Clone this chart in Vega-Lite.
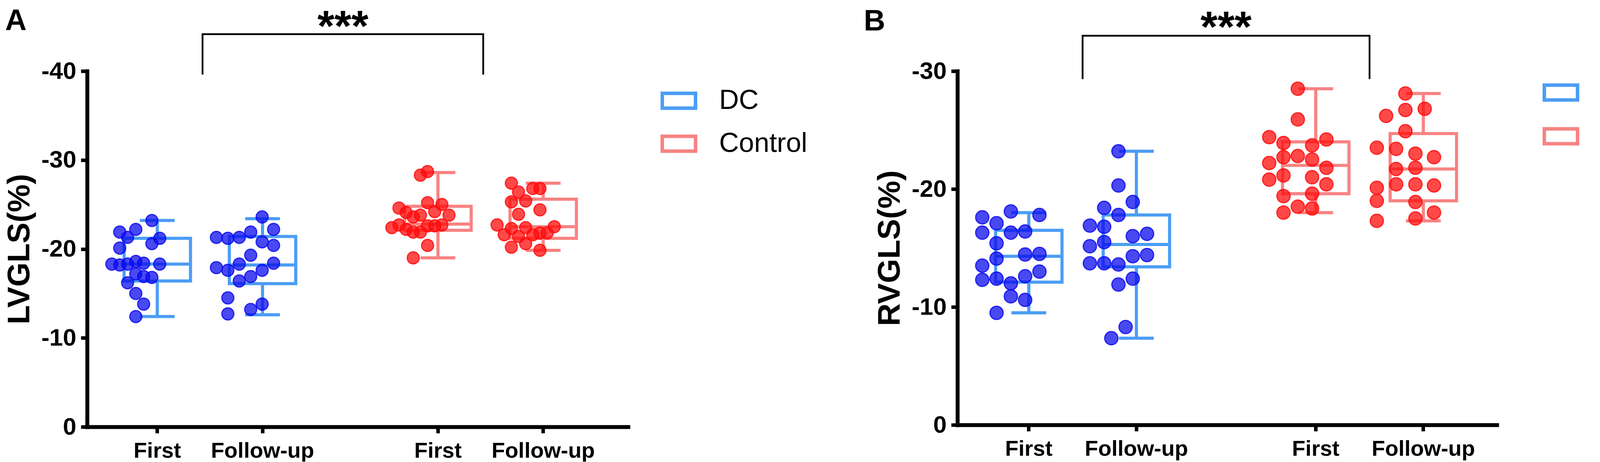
{
  "$schema": "https://vega.github.io/schema/vega-lite/v6.json",
  "background": "white",
  "padding": {"left": 10, "top": 14, "right": 0, "bottom": 0},
  "config": {
    "view": {"stroke": null},
    "font": "Liberation Sans",
    "axis": {"domainColor": "black", "tickColor": "black", "labelColor": "black", "titleColor": "black", "grid": false, "domainWidth": 10, "tickWidth": 9, "domainCap": "square", "labelFont": "Liberation Sans", "titleFont": "Liberation Sans", "labelFontWeight": "bold", "titleFontWeight": "bold", "labelLimit": 0},
    "legend": {"title": null, "orient": "right", "symbolType": "M-1,-0.5H1V0.5H-1Z M-0.81,-0.31V0.31H0.81V-0.31Z", "symbolSize": 8836, "symbolStrokeWidth": 0, "labelFontSize": 70, "labelFont": "Liberation Sans", "labelFontWeight": "normal", "labelColor": "black", "labelOffset": 56, "labelLimit": 0}
  },
  "datasets": {
    "ptsA": [
      {"group": "DC", "cond": "DC First", "lane": 1.7, "v": -23.2},
      {"group": "DC", "cond": "DC First", "lane": -2.8, "v": -21.9},
      {"group": "DC", "cond": "DC First", "lane": -0.55, "v": -22.2},
      {"group": "DC", "cond": "DC First", "lane": -1.7, "v": -21.3},
      {"group": "DC", "cond": "DC First", "lane": 2.8, "v": -21.2},
      {"group": "DC", "cond": "DC First", "lane": 1.7, "v": -20.6},
      {"group": "DC", "cond": "DC First", "lane": -2.8, "v": -20.1},
      {"group": "DC", "cond": "DC First", "lane": -3.9, "v": -18.3},
      {"group": "DC", "cond": "DC First", "lane": -2.8, "v": -18.2},
      {"group": "DC", "cond": "DC First", "lane": -1.7, "v": -18.3},
      {"group": "DC", "cond": "DC First", "lane": -0.55, "v": -18.6},
      {"group": "DC", "cond": "DC First", "lane": 0.55, "v": -18.4},
      {"group": "DC", "cond": "DC First", "lane": 2.8, "v": -18.3},
      {"group": "DC", "cond": "DC First", "lane": -0.55, "v": -17.2},
      {"group": "DC", "cond": "DC First", "lane": 0.55, "v": -16.9},
      {"group": "DC", "cond": "DC First", "lane": 1.7, "v": -16.8},
      {"group": "DC", "cond": "DC First", "lane": -1.7, "v": -16.2},
      {"group": "DC", "cond": "DC First", "lane": -0.55, "v": -15.0},
      {"group": "DC", "cond": "DC First", "lane": 0.55, "v": -13.8},
      {"group": "DC", "cond": "DC First", "lane": -0.55, "v": -12.4},
      {"group": "DC", "cond": "DC Follow-up", "lane": 2.4, "v": -23.6},
      {"group": "DC", "cond": "DC Follow-up", "lane": 4, "v": -22.2},
      {"group": "DC", "cond": "DC Follow-up", "lane": 0.8, "v": -21.9},
      {"group": "DC", "cond": "DC Follow-up", "lane": -4, "v": -21.3},
      {"group": "DC", "cond": "DC Follow-up", "lane": -2.4, "v": -21.2},
      {"group": "DC", "cond": "DC Follow-up", "lane": -0.8, "v": -21.3},
      {"group": "DC", "cond": "DC Follow-up", "lane": 2.4, "v": -20.8},
      {"group": "DC", "cond": "DC Follow-up", "lane": 4, "v": -20.4},
      {"group": "DC", "cond": "DC Follow-up", "lane": 0.8, "v": -19.3},
      {"group": "DC", "cond": "DC Follow-up", "lane": -4, "v": -17.9},
      {"group": "DC", "cond": "DC Follow-up", "lane": -2.4, "v": -17.6},
      {"group": "DC", "cond": "DC Follow-up", "lane": -0.8, "v": -18.3},
      {"group": "DC", "cond": "DC Follow-up", "lane": 4, "v": -18.4},
      {"group": "DC", "cond": "DC Follow-up", "lane": 2.4, "v": -17.6},
      {"group": "DC", "cond": "DC Follow-up", "lane": 0.8, "v": -16.9},
      {"group": "DC", "cond": "DC Follow-up", "lane": -0.8, "v": -16.4},
      {"group": "DC", "cond": "DC Follow-up", "lane": -2.4, "v": -14.5},
      {"group": "DC", "cond": "DC Follow-up", "lane": 2.4, "v": -13.8},
      {"group": "DC", "cond": "DC Follow-up", "lane": 0.8, "v": -13.2},
      {"group": "DC", "cond": "DC Follow-up", "lane": -2.4, "v": -12.7},
      {"group": "Control", "cond": "Control First", "lane": 1, "v": -28.7},
      {"group": "Control", "cond": "Control First", "lane": 0, "v": -28.3},
      {"group": "Control", "cond": "Control First", "lane": 1, "v": -25.2},
      {"group": "Control", "cond": "Control First", "lane": 3, "v": -25.0},
      {"group": "Control", "cond": "Control First", "lane": -3, "v": -24.6},
      {"group": "Control", "cond": "Control First", "lane": -2, "v": -24.1},
      {"group": "Control", "cond": "Control First", "lane": 2, "v": -24.2},
      {"group": "Control", "cond": "Control First", "lane": 4, "v": -23.8},
      {"group": "Control", "cond": "Control First", "lane": -1, "v": -23.6},
      {"group": "Control", "cond": "Control First", "lane": 0, "v": -23.8},
      {"group": "Control", "cond": "Control First", "lane": -4, "v": -22.4},
      {"group": "Control", "cond": "Control First", "lane": -3, "v": -22.7},
      {"group": "Control", "cond": "Control First", "lane": -2, "v": -22.2},
      {"group": "Control", "cond": "Control First", "lane": -1, "v": -21.9},
      {"group": "Control", "cond": "Control First", "lane": 0, "v": -21.9},
      {"group": "Control", "cond": "Control First", "lane": 1, "v": -22.6},
      {"group": "Control", "cond": "Control First", "lane": 2, "v": -22.6},
      {"group": "Control", "cond": "Control First", "lane": 3, "v": -22.7},
      {"group": "Control", "cond": "Control First", "lane": 1, "v": -20.4},
      {"group": "Control", "cond": "Control First", "lane": -1, "v": -19.0},
      {"group": "Control", "cond": "Control Follow-up", "lane": -2, "v": -27.4},
      {"group": "Control", "cond": "Control Follow-up", "lane": -1, "v": -26.4},
      {"group": "Control", "cond": "Control Follow-up", "lane": 1, "v": -26.8},
      {"group": "Control", "cond": "Control Follow-up", "lane": 2, "v": -26.8},
      {"group": "Control", "cond": "Control Follow-up", "lane": -2, "v": -25.3},
      {"group": "Control", "cond": "Control Follow-up", "lane": 0, "v": -25.4},
      {"group": "Control", "cond": "Control Follow-up", "lane": -1, "v": -23.9},
      {"group": "Control", "cond": "Control Follow-up", "lane": 2, "v": -24.4},
      {"group": "Control", "cond": "Control Follow-up", "lane": -4, "v": -22.7},
      {"group": "Control", "cond": "Control Follow-up", "lane": -3, "v": -21.6},
      {"group": "Control", "cond": "Control Follow-up", "lane": -2, "v": -22.3},
      {"group": "Control", "cond": "Control Follow-up", "lane": -1, "v": -21.4},
      {"group": "Control", "cond": "Control Follow-up", "lane": 0, "v": -22.4},
      {"group": "Control", "cond": "Control Follow-up", "lane": 1, "v": -21.6},
      {"group": "Control", "cond": "Control Follow-up", "lane": 2, "v": -21.8},
      {"group": "Control", "cond": "Control Follow-up", "lane": 3, "v": -21.8},
      {"group": "Control", "cond": "Control Follow-up", "lane": 4, "v": -22.5},
      {"group": "Control", "cond": "Control Follow-up", "lane": -2, "v": -20.2},
      {"group": "Control", "cond": "Control Follow-up", "lane": 0, "v": -20.6},
      {"group": "Control", "cond": "Control Follow-up", "lane": 2, "v": -19.85}
    ],
    "ptsB": [
      {"group": "DC", "cond": "DC First", "lane": 0, "v": -18.1},
      {"group": "DC", "cond": "DC First", "lane": 4, "v": -17.8},
      {"group": "DC", "cond": "DC First", "lane": -4, "v": -17.6},
      {"group": "DC", "cond": "DC First", "lane": -2, "v": -17.1},
      {"group": "DC", "cond": "DC First", "lane": -4, "v": -16.3},
      {"group": "DC", "cond": "DC First", "lane": 0, "v": -16.3},
      {"group": "DC", "cond": "DC First", "lane": 2, "v": -16.4},
      {"group": "DC", "cond": "DC First", "lane": -2, "v": -15.4},
      {"group": "DC", "cond": "DC First", "lane": 2, "v": -14.45},
      {"group": "DC", "cond": "DC First", "lane": 4, "v": -14.5},
      {"group": "DC", "cond": "DC First", "lane": -2, "v": -14.1},
      {"group": "DC", "cond": "DC First", "lane": -4, "v": -13.5},
      {"group": "DC", "cond": "DC First", "lane": 4, "v": -13.0},
      {"group": "DC", "cond": "DC First", "lane": -4, "v": -12.3},
      {"group": "DC", "cond": "DC First", "lane": -2, "v": -12.4},
      {"group": "DC", "cond": "DC First", "lane": 2, "v": -12.6},
      {"group": "DC", "cond": "DC First", "lane": 0, "v": -12.0},
      {"group": "DC", "cond": "DC First", "lane": 0, "v": -10.9},
      {"group": "DC", "cond": "DC First", "lane": 2, "v": -10.6},
      {"group": "DC", "cond": "DC First", "lane": -2, "v": -9.5},
      {"group": "DC", "cond": "DC Follow-up", "lane": 0, "v": -23.2},
      {"group": "DC", "cond": "DC Follow-up", "lane": 0, "v": -20.3},
      {"group": "DC", "cond": "DC Follow-up", "lane": 2, "v": -18.9},
      {"group": "DC", "cond": "DC Follow-up", "lane": -2, "v": -18.4},
      {"group": "DC", "cond": "DC Follow-up", "lane": 0, "v": -17.8},
      {"group": "DC", "cond": "DC Follow-up", "lane": -4, "v": -16.9},
      {"group": "DC", "cond": "DC Follow-up", "lane": -2, "v": -16.8},
      {"group": "DC", "cond": "DC Follow-up", "lane": 2, "v": -16.0},
      {"group": "DC", "cond": "DC Follow-up", "lane": 4, "v": -16.2},
      {"group": "DC", "cond": "DC Follow-up", "lane": -4, "v": -15.15},
      {"group": "DC", "cond": "DC Follow-up", "lane": -2, "v": -15.5},
      {"group": "DC", "cond": "DC Follow-up", "lane": 2, "v": -14.3},
      {"group": "DC", "cond": "DC Follow-up", "lane": 4, "v": -14.4},
      {"group": "DC", "cond": "DC Follow-up", "lane": -4, "v": -13.7},
      {"group": "DC", "cond": "DC Follow-up", "lane": -2, "v": -13.7},
      {"group": "DC", "cond": "DC Follow-up", "lane": 0, "v": -13.6},
      {"group": "DC", "cond": "DC Follow-up", "lane": 2, "v": -12.4},
      {"group": "DC", "cond": "DC Follow-up", "lane": 0, "v": -11.9},
      {"group": "DC", "cond": "DC Follow-up", "lane": 1, "v": -8.3},
      {"group": "DC", "cond": "DC Follow-up", "lane": -1, "v": -7.35},
      {"group": "Control", "cond": "Control First", "lane": 0, "v": -28.5},
      {"group": "Control", "cond": "Control First", "lane": 0, "v": -25.9},
      {"group": "Control", "cond": "Control First", "lane": -4, "v": -24.4},
      {"group": "Control", "cond": "Control First", "lane": 4, "v": -24.2},
      {"group": "Control", "cond": "Control First", "lane": -2, "v": -23.9},
      {"group": "Control", "cond": "Control First", "lane": 2, "v": -23.7},
      {"group": "Control", "cond": "Control First", "lane": -2, "v": -22.7},
      {"group": "Control", "cond": "Control First", "lane": 0, "v": -22.8},
      {"group": "Control", "cond": "Control First", "lane": 2, "v": -22.5},
      {"group": "Control", "cond": "Control First", "lane": -4, "v": -22.2},
      {"group": "Control", "cond": "Control First", "lane": 4, "v": -21.8},
      {"group": "Control", "cond": "Control First", "lane": -4, "v": -20.8},
      {"group": "Control", "cond": "Control First", "lane": -2, "v": -21.15},
      {"group": "Control", "cond": "Control First", "lane": 2, "v": -21.0},
      {"group": "Control", "cond": "Control First", "lane": 4, "v": -20.4},
      {"group": "Control", "cond": "Control First", "lane": -2, "v": -19.4},
      {"group": "Control", "cond": "Control First", "lane": 2, "v": -19.6},
      {"group": "Control", "cond": "Control First", "lane": 0, "v": -18.5},
      {"group": "Control", "cond": "Control First", "lane": -2, "v": -18.0},
      {"group": "Control", "cond": "Control First", "lane": 2, "v": -18.35},
      {"group": "Control", "cond": "Control Follow-up", "lane": 0, "v": -28.1},
      {"group": "Control", "cond": "Control Follow-up", "lane": 2.7, "v": -26.8},
      {"group": "Control", "cond": "Control Follow-up", "lane": 0, "v": -26.7},
      {"group": "Control", "cond": "Control Follow-up", "lane": -2.7, "v": -26.2},
      {"group": "Control", "cond": "Control Follow-up", "lane": 0, "v": -24.9},
      {"group": "Control", "cond": "Control Follow-up", "lane": -4, "v": -23.5},
      {"group": "Control", "cond": "Control Follow-up", "lane": -1.3, "v": -23.4},
      {"group": "Control", "cond": "Control Follow-up", "lane": 1.4, "v": -23.0},
      {"group": "Control", "cond": "Control Follow-up", "lane": 4, "v": -22.7},
      {"group": "Control", "cond": "Control Follow-up", "lane": -1.3, "v": -21.7},
      {"group": "Control", "cond": "Control Follow-up", "lane": 1.4, "v": -21.8},
      {"group": "Control", "cond": "Control Follow-up", "lane": -4, "v": -20.1},
      {"group": "Control", "cond": "Control Follow-up", "lane": -1.3, "v": -20.4},
      {"group": "Control", "cond": "Control Follow-up", "lane": 1.4, "v": -20.4},
      {"group": "Control", "cond": "Control Follow-up", "lane": 4, "v": -20.3},
      {"group": "Control", "cond": "Control Follow-up", "lane": -4, "v": -19.0},
      {"group": "Control", "cond": "Control Follow-up", "lane": 1.4, "v": -18.9},
      {"group": "Control", "cond": "Control Follow-up", "lane": 4, "v": -18.0},
      {"group": "Control", "cond": "Control Follow-up", "lane": 1.4, "v": -17.5},
      {"group": "Control", "cond": "Control Follow-up", "lane": -4, "v": -17.3}
    ],
    "boxA": [
      {"group": "DC", "cond": "DC First", "lo": -12.4, "q1": -16.4, "med": -18.3, "q3": -21.2, "hi": -23.2},
      {"group": "DC", "cond": "DC Follow-up", "lo": -12.6, "q1": -16.1, "med": -18.2, "q3": -21.4, "hi": -23.4},
      {"group": "Control", "cond": "Control First", "lo": -19.0, "q1": -22.1, "med": -22.8, "q3": -24.8, "hi": -28.6},
      {"group": "Control", "cond": "Control Follow-up", "lo": -19.85, "q1": -21.2, "med": -22.5, "q3": -25.6, "hi": -27.4}
    ],
    "boxB": [
      {"group": "DC", "cond": "DC First", "lo": -9.5, "q1": -12.1, "med": -14.3, "q3": -16.5, "hi": -18.0},
      {"group": "DC", "cond": "DC Follow-up", "lo": -7.35, "q1": -13.4, "med": -15.3, "q3": -17.8, "hi": -23.2},
      {"group": "Control", "cond": "Control First", "lo": -18.0, "q1": -19.6, "med": -22.0, "q3": -24.0, "hi": -28.5},
      {"group": "Control", "cond": "Control Follow-up", "lo": -17.3, "q1": -19.0, "med": -21.7, "q3": -24.7, "hi": -28.1}
    ],
    "brA": [
      {"cond": "g1", "v": -39.6, "ord": 1},
      {"cond": "g1", "v": -44.15, "ord": 2},
      {"cond": "g7", "v": -44.15, "ord": 3},
      {"cond": "g7", "v": -39.6, "ord": 4}
    ],
    "brB": [
      {"cond": "g2", "v": -29.32, "ord": 1},
      {"cond": "g2", "v": -33.0, "ord": 2},
      {"cond": "g8", "v": -33.0, "ord": 3},
      {"cond": "g8", "v": -29.32, "ord": 4}
    ],
    "starA": [{"cond": "g4", "v": -43.40, "label": "***"}],
    "starB": [{"cond": "g5", "v": -32.50, "label": "***"}],
    "labA": [{"cond": "DC First", "v": -44.63, "label": "A"}],
    "labB": [{"cond": "DC First", "v": -33.43, "label": "B"}]
  },
  "hconcat": [
    {
      "width": 1385,
      "height": 911,
      "encoding": {
        "x": {"field": "cond", "type": "nominal", "title": null,
          "scale": {"type": "band", "domain": ["s0", "DC First", "g1", "g2", "DC Follow-up", "g3", "g4", "g5", "g6", "Control First", "g7", "g8", "Control Follow-up", "s9"], "paddingInner": 0, "paddingOuter": 0.71, "align": 0.352},
          "axis": {"values": ["DC First", "DC Follow-up", "Control First", "Control Follow-up"], "labelExpr": "indexof(datum.value, 'First') >= 0 ? 'First' : 'Follow-up'", "labelAngle": 0, "labelFontSize": 56, "tickSize": 16, "labelPadding": 18, "bandPosition": 0.5}}
      },
      "layer": [
        {"data": {"name": "boxA"}, "mark": {"type": "bar", "width": 170, "filled": false, "strokeWidth": 8},
          "encoding": {
            "y": {"field": "q3", "type": "quantitative", "title": "LVGLS(%)", "scale": {"domain": [-40, 0], "reverse": true, "nice": false, "zero": false},
              "axis": {"values": [-40, -30, -20, -10, 0], "labelExpr": "'' + datum.value", "labelFontSize": 62, "tickSize": 16, "labelPadding": 12, "labelFlush": false, "labelOverlap": false, "titleFontSize": 80, "titlePadding": 14}},
            "y2": {"field": "q1"},
            "stroke": {"field": "group", "type": "nominal", "scale": {"domain": ["DC", "Control"], "range": ["#4B9DF5", "#F88383"]}, "legend": {"offset": 54, "padding": 29, "rowPadding": 28}}}},
        {"data": {"name": "boxA"}, "mark": {"type": "rule", "strokeWidth": 8},
          "encoding": {
            "y": {"field": "hi", "type": "quantitative", "title": "LVGLS(%)"},
            "y2": {"field": "q3"},
            "stroke": {"field": "group", "type": "nominal", "legend": {"offset": 54, "padding": 29, "rowPadding": 28}}}},
        {"data": {"name": "boxA"}, "mark": {"type": "rule", "strokeWidth": 8},
          "encoding": {
            "y": {"field": "q1", "type": "quantitative", "title": "LVGLS(%)"},
            "y2": {"field": "lo"},
            "stroke": {"field": "group", "type": "nominal", "legend": {"offset": 54, "padding": 29, "rowPadding": 28}}}},
        {"data": {"name": "boxA"}, "mark": {"type": "tick", "size": 170, "thickness": 8, "opacity": 1},
          "encoding": {
            "y": {"field": "med", "type": "quantitative", "title": "LVGLS(%)"},
            "fill": {"field": "group", "type": "nominal", "scale": {"domain": ["DC", "Control"], "range": ["#4B9DF5", "#F88383"]}, "legend": null}}},
        {"data": {"name": "boxA"}, "mark": {"type": "tick", "size": 89, "thickness": 8, "opacity": 1},
          "encoding": {
            "y": {"field": "hi", "type": "quantitative", "title": "LVGLS(%)"},
            "fill": {"field": "group", "type": "nominal", "legend": null}}},
        {"data": {"name": "boxA"}, "mark": {"type": "tick", "size": 89, "thickness": 8, "opacity": 1},
          "encoding": {
            "y": {"field": "lo", "type": "quantitative", "title": "LVGLS(%)"},
            "fill": {"field": "group", "type": "nominal", "legend": null}}},
        {"data": {"name": "ptsA"}, "mark": {"type": "point", "shape": "circle", "filled": true, "size": 950, "opacity": 1, "fillOpacity": 0.74},
          "encoding": {
            "y": {"field": "v", "type": "quantitative", "title": "LVGLS(%)"},
            "xOffset": {"field": "lane", "type": "quantitative", "scale": {"domain": [-4, 4], "range": [-73.2, 73.2]}},
            "color": {"field": "group", "type": "nominal", "scale": {"domain": ["DC", "Control"], "range": ["#0A0AEE", "#FF0A0A"]}, "legend": null}}},
        {"data": {"name": "ptsA"}, "mark": {"type": "point", "shape": "circle", "filled": false, "size": 950, "opacity": 1, "strokeWidth": 3, "strokeOpacity": 0.85},
          "encoding": {
            "y": {"field": "v", "type": "quantitative", "title": "LVGLS(%)"},
            "xOffset": {"field": "lane", "type": "quantitative"},
            "color": {"field": "group", "type": "nominal", "legend": null}}},
        {"data": {"name": "brA"}, "mark": {"type": "line", "stroke": "black", "strokeWidth": 4.5, "clip": false},
          "encoding": {
            "x": {"field": "cond", "type": "nominal", "bandPosition": 0.79, "title": null},
            "y": {"field": "v", "type": "quantitative", "title": "LVGLS(%)"},
            "order": {"field": "ord", "type": "quantitative"}}},
        {"data": {"name": "starA"}, "mark": {"type": "text", "fontSize": 112, "fontWeight": "bold", "font": "Liberation Sans", "baseline": "alphabetic", "align": "center", "color": "black", "clip": false},
          "encoding": {
            "x": {"field": "cond", "type": "nominal", "bandPosition": 0.79, "title": null},
            "y": {"field": "v", "type": "quantitative", "title": "LVGLS(%)"},
            "text": {"field": "label"}}},
        {"data": {"name": "labA"}, "mark": {"type": "text", "fontSize": 76, "fontWeight": "bold", "font": "Liberation Sans", "baseline": "alphabetic", "align": "center", "color": "black", "clip": false, "dx": -362},
          "encoding": {
            "y": {"field": "v", "type": "quantitative", "title": "LVGLS(%)"},
            "text": {"field": "label"}}}
      ]
    },
    {
      "width": 1381,
      "height": 906,
      "encoding": {
        "x": {"field": "cond", "type": "nominal", "title": null,
          "scale": {"type": "band", "domain": ["s0", "DC First", "g1", "g2", "DC Follow-up", "g3", "g4", "g5", "g6", "Control First", "g7", "g8", "Control Follow-up", "s9"], "paddingInner": 0, "paddingOuter": 0.52, "align": 0.471},
          "axis": {"values": ["DC First", "DC Follow-up", "Control First", "Control Follow-up"], "labelExpr": "indexof(datum.value, 'First') >= 0 ? 'First' : 'Follow-up'", "labelAngle": 0, "labelFontSize": 56, "tickSize": 16, "labelPadding": 18, "bandPosition": 0.5}}
      },
      "layer": [
        {"data": {"name": "boxB"}, "mark": {"type": "bar", "width": 170, "filled": false, "strokeWidth": 8},
          "encoding": {
            "y": {"field": "q3", "type": "quantitative", "title": "RVGLS(%)", "scale": {"domain": [-30, 0], "reverse": true, "nice": false, "zero": false},
              "axis": {"values": [-30, -20, -10, 0], "labelExpr": "'' + datum.value", "labelFontSize": 62, "tickSize": 16, "labelPadding": 12, "labelFlush": false, "labelOverlap": false, "titleFontSize": 80, "titlePadding": 14}},
            "y2": {"field": "q1"},
            "stroke": {"field": "group", "type": "nominal", "scale": {"domain": ["DC", "Control"], "range": ["#4B9DF5", "#F88383"]}, "legend": {"offset": 109, "padding": 8, "rowPadding": 30}}}},
        {"data": {"name": "boxB"}, "mark": {"type": "rule", "strokeWidth": 8},
          "encoding": {
            "y": {"field": "hi", "type": "quantitative", "title": "RVGLS(%)"},
            "y2": {"field": "q3"},
            "stroke": {"field": "group", "type": "nominal", "legend": {"offset": 109, "padding": 8, "rowPadding": 30}}}},
        {"data": {"name": "boxB"}, "mark": {"type": "rule", "strokeWidth": 8},
          "encoding": {
            "y": {"field": "q1", "type": "quantitative", "title": "RVGLS(%)"},
            "y2": {"field": "lo"},
            "stroke": {"field": "group", "type": "nominal", "legend": {"offset": 109, "padding": 8, "rowPadding": 30}}}},
        {"data": {"name": "boxB"}, "mark": {"type": "tick", "size": 170, "thickness": 8, "opacity": 1},
          "encoding": {
            "y": {"field": "med", "type": "quantitative", "title": "RVGLS(%)"},
            "fill": {"field": "group", "type": "nominal", "scale": {"domain": ["DC", "Control"], "range": ["#4B9DF5", "#F88383"]}, "legend": null}}},
        {"data": {"name": "boxB"}, "mark": {"type": "tick", "size": 89, "thickness": 8, "opacity": 1},
          "encoding": {
            "y": {"field": "hi", "type": "quantitative", "title": "RVGLS(%)"},
            "fill": {"field": "group", "type": "nominal", "legend": null}}},
        {"data": {"name": "boxB"}, "mark": {"type": "tick", "size": 89, "thickness": 8, "opacity": 1},
          "encoding": {
            "y": {"field": "lo", "type": "quantitative", "title": "RVGLS(%)"},
            "fill": {"field": "group", "type": "nominal", "legend": null}}},
        {"data": {"name": "ptsB"}, "mark": {"type": "point", "shape": "circle", "filled": true, "size": 1150, "opacity": 1, "fillOpacity": 0.74},
          "encoding": {
            "y": {"field": "v", "type": "quantitative", "title": "RVGLS(%)"},
            "xOffset": {"field": "lane", "type": "quantitative", "scale": {"domain": [-4, 4], "range": [-73.2, 73.2]}},
            "color": {"field": "group", "type": "nominal", "scale": {"domain": ["DC", "Control"], "range": ["#0A0AEE", "#FF0A0A"]}, "legend": null}}},
        {"data": {"name": "ptsB"}, "mark": {"type": "point", "shape": "circle", "filled": false, "size": 1150, "opacity": 1, "strokeWidth": 3, "strokeOpacity": 0.85},
          "encoding": {
            "y": {"field": "v", "type": "quantitative", "title": "RVGLS(%)"},
            "xOffset": {"field": "lane", "type": "quantitative"},
            "color": {"field": "group", "type": "nominal", "legend": null}}},
        {"data": {"name": "brB"}, "mark": {"type": "line", "stroke": "black", "strokeWidth": 4.5, "clip": false},
          "encoding": {
            "x": {"field": "cond", "type": "nominal", "bandPosition": 0, "title": null},
            "y": {"field": "v", "type": "quantitative", "title": "RVGLS(%)"},
            "order": {"field": "ord", "type": "quantitative"}}},
        {"data": {"name": "starB"}, "mark": {"type": "text", "fontSize": 112, "fontWeight": "bold", "font": "Liberation Sans", "baseline": "alphabetic", "align": "center", "color": "black", "clip": false},
          "encoding": {
            "x": {"field": "cond", "type": "nominal", "bandPosition": 0, "title": null},
            "y": {"field": "v", "type": "quantitative", "title": "RVGLS(%)"},
            "text": {"field": "label"}}},
        {"data": {"name": "labB"}, "mark": {"type": "text", "fontSize": 76, "fontWeight": "bold", "font": "Liberation Sans", "baseline": "alphabetic", "align": "center", "color": "black", "clip": false, "dx": -395},
          "encoding": {
            "y": {"field": "v", "type": "quantitative", "title": "RVGLS(%)"},
            "text": {"field": "label"}}}
      ]
    }
  ],
  "spacing": 115,
  "resolve": {"scale": {"x": "independent", "y": "independent", "stroke": "independent", "fill": "independent", "color": "independent"}, "legend": {"stroke": "independent"}}
}
